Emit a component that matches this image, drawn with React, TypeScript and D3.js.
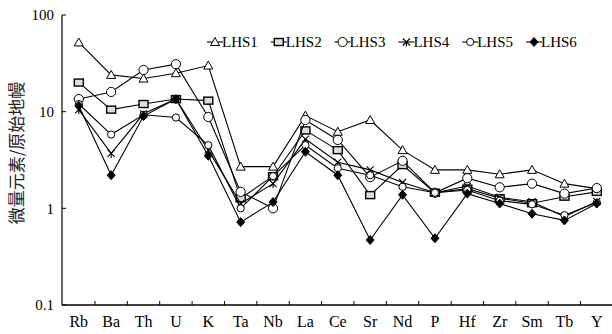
import React from 'react';
import * as d3 from 'd3';

// trace elements on x, normalised values (log scale) per sample
const elements = ['Rb', 'Ba', 'Th', 'U', 'K', 'Ta', 'Nb', 'La', 'Ce', 'Sr', 'Nd', 'P', 'Hf', 'Zr', 'Sm', 'Tb', 'Y'];
const lhs1 = [52, 24, 22, 25, 30, 2.7, 2.7, 9.1, 6.2, 8.2, 4.0, 2.5, 2.5, 2.25, 2.5, 1.8, 1.6];
const lhs2 = [20, 10.5, 12, 13.5, 13, 1.27, 2.15, 6.4, 4.0, 1.37, 2.8, 1.45, 1.6, 1.27, 1.13, 1.32, 1.48];
const lhs3 = [13.5, 16, 27, 31, 8.8, 1.48, 1.0, 8.2, 5.1, 2.1, 3.1, 1.45, 2.05, 1.65, 1.8, 1.42, 1.62];
const lhs4 = [10.5, 3.7, 9.5, 13.5, 4.0, 1.12, 1.8, 5.2, 3.0, 2.5, 1.85, 1.45, 1.7, 1.3, 1.17, 0.82, 1.18];
const lhs5 = [12, 5.8, 9.3, 8.7, 4.5, 1.0, 2.15, 4.5, 2.6, 2.2, 1.67, 1.45, 1.55, 1.2, 1.1, 0.85, 1.15];
const lhs6 = [11.5, 2.2, 9.0, 13.5, 3.5, 0.72, 1.16, 3.85, 2.2, 0.47, 1.38, 0.49, 1.42, 1.12, 0.88, 0.75, 1.12];
const seriesNames = ['LHS1', 'LHS2', 'LHS3', 'LHS4', 'LHS5', 'LHS6'];
const seriesValues = [lhs1, lhs2, lhs3, lhs4, lhs5, lhs6];
const markerKinds = ['triangle', 'square', 'circle', 'star', 'smallCircle', 'diamond'];
const yTicks = [0.1, 1, 10, 100];

const W = 612;
const H = 334;
const serif = '"Liberation Serif", "Times New Roman", serif';

const Marker = ({ kind, x, y }: { kind: string; x: number; y: number }) => {
  const t = `translate(${x},${y})`;
  switch (kind) {
    case 'triangle':
      return <path transform={t} d="M0,-4.5L4.5,3.5L-4.5,3.5Z" fill="#fff" stroke="#000" strokeWidth={1} />;
    case 'square':
      return <rect transform={t} x={-4.5} y={-3.5} width={9} height={7} fill="#ddd" stroke="#000" strokeWidth={1.4} />;
    case 'circle':
      return <circle transform={t} r={4.6} fill="#fff" stroke="#000" strokeWidth={1} />;
    case 'smallCircle':
      return <circle transform={t} r={3.6} fill="#fff" stroke="#000" strokeWidth={1} />;
    case 'star':
      return (
        <path transform={t} d="M-3.5,-3.5L3.5,3.5M3.5,-3.5L-3.5,3.5M0,0L0,4.5" fill="none" stroke="#000" strokeWidth={1.1} />
      );
    case 'diamond':
      return <path transform={t} d="M0,-4.5L4,0L0,4.5L-4,0Z" fill="#000" stroke="#000" strokeWidth={1} />;
    default:
      return null;
  }
};

export default function App() {
  const x = d3.scaleBand<string>().domain(elements).range([62.6, 613]).padding(0);
  const y = d3.scaleLog().domain([0.1, 100]).range([305, 15]);
  const cx = (e: string) => (x(e) as number) + x.bandwidth() / 2;

  const line = d3
    .line<number>()
    .x((_, i) => cx(elements[i]))
    .y((d) => y(d));

  const legendY = 42;
  const legendStep = 63.8;

  return (
    <svg width={W} height={H} style={{ position: 'absolute', left: 0, top: 0, background: '#fff' }}>
      {/* axes */}
      <line x1={62} x2={62} y1={15} y2={305} stroke="#000" strokeWidth={1.2} />
      <line x1={62} x2={W} y1={305} y2={305} stroke="#000" strokeWidth={1.6} />
      {yTicks.map((v) => (
        <g key={v}>
          <line x1={62} x2={66} y1={y(v)} y2={y(v)} stroke="#000" strokeWidth={1} />
          <text x={54} y={y(v)} dy="0.35em" textAnchor="end" fontFamily={serif} fontSize={15}>
            {v}
          </text>
        </g>
      ))}
      {elements.slice(1).map((e) => (
        <line key={e} x1={x(e)} x2={x(e)} y1={305} y2={301} stroke="#000" strokeWidth={1} />
      ))}
      {elements.map((e) => (
        <text key={e} x={cx(e)} y={327} textAnchor="middle" fontFamily={serif} fontSize={16}>
          {e}
        </text>
      ))}
      <text
        transform="translate(17,153) rotate(-90)"
        textAnchor="middle"
        dy="0.35em"
        fontFamily='"Noto Sans CJK SC", sans-serif'
        fontSize={17}
        fill="#222"
      >
        微量元素/原始地幔
      </text>

      {/* series */}
      {seriesValues.map((vals, si) => (
        <g key={seriesNames[si]}>
          <path d={line(vals) || ''} fill="none" stroke="#000" strokeWidth={1.1} />
          {vals.map((v, i) => (
            <Marker key={i} kind={markerKinds[si]} x={cx(elements[i])} y={y(v)} />
          ))}
        </g>
      ))}

      {/* legend */}
      {seriesNames.map((name, si) => {
        const mx = 215 + si * legendStep;
        return (
          <g key={name}>
            <line x1={mx - 8} x2={mx + 8} y1={legendY} y2={legendY} stroke="#000" strokeWidth={1.1} />
            <Marker kind={markerKinds[si]} x={mx} y={legendY} />
            <text x={mx + 7} y={legendY} dy="0.35em" fontFamily={serif} fontSize={15}>
              {name}
            </text>
          </g>
        );
      })}
    </svg>
  );
}
